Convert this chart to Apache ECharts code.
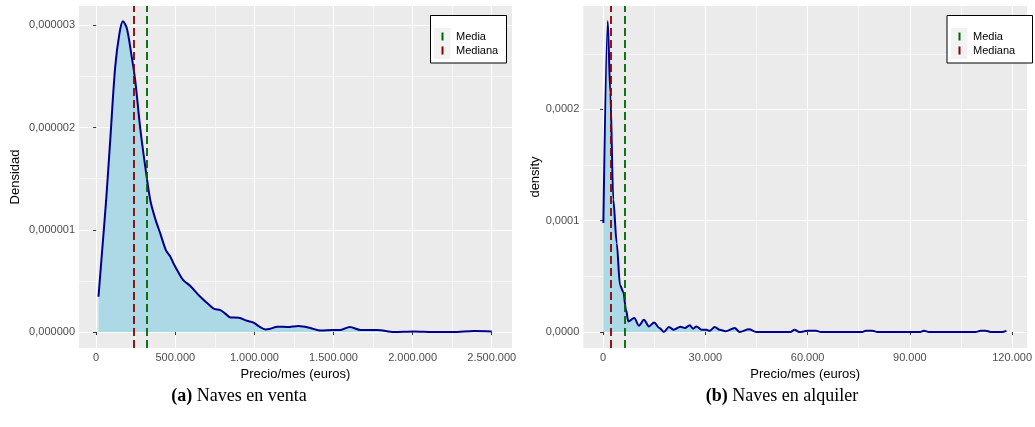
<!DOCTYPE html>
<html><head><meta charset="utf-8">
<script src="https://cdn.jsdelivr.net/npm/echarts@6/dist/echarts.min.js"></script>
<style>html,body{margin:0;padding:0;background:#fff}#c{width:1035px;height:427px}</style>
</head><body><div id="c"></div>
<script>
// ---- data ----
const ventaX = [14600, 38000, 63000, 89000, 120000, 147000, 169000, 194000, 222000, 247000,
  278000, 310000, 342000, 373000, 405000, 441000, 468000, 489000, 521000, 549000,
  595000, 658000, 700000, 742000, 785000, 816000, 848000, 901000, 953000, 996000,
  1027000, 1070000, 1101000, 1144000, 1207000, 1280000, 1354000, 1418000, 1502000, 1544000,
  1603000, 1671000, 1776000, 1882000, 2008000, 2130000, 2256000, 2388000, 2500000];
const ventaY = [0.345e-6, 0.80e-6, 1.29e-6, 1.88e-6, 2.59e-6, 2.92e-6, 3.04e-6, 2.97e-6, 2.72e-6, 2.46e-6,
  2.00e-6, 1.62e-6, 1.29e-6, 1.11e-6, 0.965e-6, 0.80e-6, 0.74e-6, 0.67e-6, 0.58e-6, 0.51e-6,
  0.45e-6, 0.345e-6, 0.286e-6, 0.23e-6, 0.215e-6, 0.18e-6, 0.143e-6, 0.14e-6, 0.11e-6, 0.091e-6,
  0.058e-6, 0.026e-6, 0.033e-6, 0.052e-6, 0.05e-6, 0.06e-6, 0.04e-6, 0.014e-6, 0.02e-6, 0.02e-6,
  0.05e-6, 0.02e-6, 0.02e-6, 0, 0.005e-6, 0, 0, 0.01e-6, 0.006e-6];
const alquilerX = [88, 1370, 2130, 3000, 4000, 4970, 5940, 6730, 7400, 9150,
  10530, 12000, 13450, 15000, 16500, 17840, 19300, 20760, 22700, 24000,
  25440, 26400, 27400, 28860, 30330, 31300, 32750, 34220, 35970, 38600,
  40070, 42800, 44940, 55000, 56140, 57600, 60000, 62470, 63900, 76000,
  77100, 79050, 80500, 93000, 94150, 95600, 109300, 110760, 112200, 113700,
  117000, 118350];
const alquilerY = [0.98e-4, 2.795e-4, 2.15e-4, 1.19e-4, 0.80e-4, 0.42e-4, 0.36e-4, 0.20e-4, 0.095e-4, 0.125e-4,
  0.057e-4, 0.11e-4, 0.05e-4, 0.086e-4, 0.036e-4, 0, 0.045e-4, 0.02e-4, 0.048e-4, 0.036e-4,
  0.06e-4, 0.03e-4, 0.05e-4, 0.02e-4, 0.02e-4, 0.01e-4, 0.045e-4, 0.02e-4, 0.007e-4, 0.036e-4,
  0, 0.024e-4, 0, 0, 0.02e-4, 0, 0.01e-4, 0.01e-4, 0, 0,
  0.012e-4, 0.01e-4, 0, 0, 0.012e-4, 0, 0, 0.012e-4, 0.012e-4, 0,
  0, 0.01e-4];
const ventaMedia = 321000, ventaMediana = 238600;
const alquilerMedia = 6340, alquilerMediana = 2130;

const ventaXTicks = [0, 500000, 1000000, 1500000, 2000000, 2500000];
const ventaXMinor = [250000, 750000, 1250000, 1750000, 2250000];
const ventaYTicks = [0, 1e-6, 2e-6, 3e-6];
const ventaYMinor = [0.5e-6, 1.5e-6, 2.5e-6];
const alquilerXTicks = [0, 30000, 60000, 90000, 120000];
const alquilerXMinor = [15000, 45000, 75000, 105000];
const alquilerYTicks = [0, 1e-4, 2e-4];
const alquilerYMinor = [0.5e-4, 1.5e-4, 2.5e-4];

const legendNames = ['Media', 'Mediana'];
const xTitle = 'Precio/mes (euros)';
const yTitles = ['Densidad', 'density'];
const captionTags = ['(a)', '(b)'];
const captionTexts = ['Naves en venta', 'Naves en alquiler'];

// ---- styling / helpers ----
const GREEN = '#006400', RED = '#8B0000', LINE = '#00008B', FILL = '#ADD8E6';
const SANS = 'Liberation Sans, Arial, sans-serif';
const SERIF = 'Liberation Serif, Times New Roman, serif';
const fmtX = v => String(Math.round(v)).replace(/\B(?=(\d{3})+(?!\d))/g, '.');
const fmtY = d => v => v.toFixed(d).replace('.', ',');

function majorAxis(gridIndex, min, max, ticks, fmt, isX, name, nameGap) {
  return {
    type: 'value', gridIndex, min, max,
    axisLine: { show: false },
    axisTick: { show: true, length: 3, customValues: ticks, lineStyle: { color: '#333', width: 1 } },
    axisLabel: { show: true, customValues: ticks, formatter: fmt, margin: 4, color: '#4D4D4D',
      fontFamily: SANS, fontSize: 11, showMinLabel: true, showMaxLabel: true },
    splitLine: { show: true, lineStyle: { color: '#FFFFFF', width: 1.1 } },
    name, nameLocation: 'middle', nameGap,
    nameRotate: isX ? 0 : 90,
    nameTextStyle: { fontFamily: SANS, fontSize: 13, color: '#000' }
  };
}
function minorAxis(gridIndex, min, max, ticks) {
  return {
    type: 'value', gridIndex, min, max,
    axisLine: { show: false },
    axisTick: { show: false, customValues: ticks },
    axisLabel: { show: false, customValues: ticks },
    splitLine: { show: true, lineStyle: { color: '#FFFFFF', width: 0.55 } }
  };
}
const zip = (xs, ys) => xs.map((x, i) => [x, ys[i]]);
function densitySeries(idx, xs, ys, media, mediana, smooth, mono) {
  return {
    type: 'line', xAxisIndex: idx, yAxisIndex: idx,
    data: zip(xs, ys), showSymbol: false, smooth, smoothMonotone: mono,
    lineStyle: { color: LINE, width: 2 },
    itemStyle: { color: LINE },
    areaStyle: { color: FILL, opacity: 1 },
    z: 2,
    markLine: {
      silent: true, symbol: 'none', animation: false,
      label: { show: false },
      data: [
        { xAxis: mediana, lineStyle: { color: RED, type: [8, 4], width: 1.8 } },
        { xAxis: media, lineStyle: { color: GREEN, type: [8, 4], width: 1.8 } }
      ]
    }
  };
}
function dummy(name, color, idx) {
  return { type: 'line', name, data: [], xAxisIndex: idx, yAxisIndex: idx, color,
    itemStyle: { color }, lineStyle: { color } };
}
const barIcon = 'path://M0,0h0.01v0.01h-0.01z M7.5,1h2v8h-2z M16.99,9.99h0.01v0.01h-0.01z';
function legendAt(left) {
  return {
    left, top: 31, orient: 'vertical', itemWidth: 17, itemHeight: 10, itemGap: 3,
    padding: 0, selectedMode: false, z: 4,
    textStyle: { fontFamily: SANS, fontSize: 11, color: '#000', padding: [0, 0, 0, 0] },
    data: legendNames.map(n => ({ name: n, icon: barIcon }))
  };
}
function legendBox(x, y, w, h, kx) {
  return [
    { type: 'rect', z: 3, shape: { x, y, width: w, height: h },
      style: { fill: '#fff', stroke: '#000', lineWidth: 1 } },
    { type: 'rect', z: 3, shape: { x: kx, y: 28, width: 16.5, height: 31 },
      style: { fill: '#F2F2F2' } }
  ];
}
function caption(i, cx) {
  return { type: 'text', z: 5, style: {
    x: cx, y: 396, text: '{b|' + captionTags[i] + '} ' + captionTexts[i],
    align: 'center', textAlign: 'center', verticalAlign: 'middle', textVerticalAlign: 'middle',
    fontFamily: SERIF, fontSize: 18, fill: '#000',
    rich: { b: { fontFamily: SERIF, fontSize: 18, fontWeight: 'bold', fill: '#000' } }
  } };
}

const chart = echarts.init(document.getElementById('c'), null, { renderer: 'canvas' });
chart.setOption({
  animation: false,
  backgroundColor: '#fff',
  grid: [
    { left: 79, top: 6, width: 433, height: 342, show: true, backgroundColor: '#EBEBEB', borderWidth: 0 },
    { left: 583.3, top: 6, width: 445.7, height: 342, show: true, backgroundColor: '#EBEBEB', borderWidth: 0 }
  ],
  xAxis: [
    majorAxis(0, -108500, 2628000, ventaXTicks, fmtX, true, xTitle, 16),
    majorAxis(1, -5800, 124400, alquilerXTicks, fmtX, true, xTitle, 16),
    minorAxis(0, -108500, 2628000, ventaXMinor),
    minorAxis(1, -5800, 124400, alquilerXMinor)
  ],
  yAxis: [
    majorAxis(0, -0.156e-6, 3.19e-6, ventaYTicks, fmtY(6), false, yTitles[0], 57),
    majorAxis(1, -0.144e-4, 2.93e-4, alquilerYTicks, fmtY(4), false, yTitles[1], 34),
    minorAxis(0, -0.156e-6, 3.19e-6, ventaYMinor),
    minorAxis(1, -0.144e-4, 2.93e-4, alquilerYMinor)
  ],
  legend: [legendAt(434), legendAt(951)],
  series: [
    densitySeries(0, ventaX, ventaY, ventaMedia, ventaMediana, 0.3, null),
    densitySeries(1, alquilerX, alquilerY, alquilerMedia, alquilerMediana, 0.3, 'x'),
    dummy(legendNames[0], GREEN, 0), dummy(legendNames[1], RED, 0),
    dummy(legendNames[0], GREEN, 1), dummy(legendNames[1], RED, 1)
  ],
  graphic: [
    ...legendBox(430.5, 15.5, 76, 47.5, 434),
    ...legendBox(947, 15.5, 85.5, 47.5, 951),
    caption(0, 239), caption(1, 782)
  ]
});
</script></body></html>
